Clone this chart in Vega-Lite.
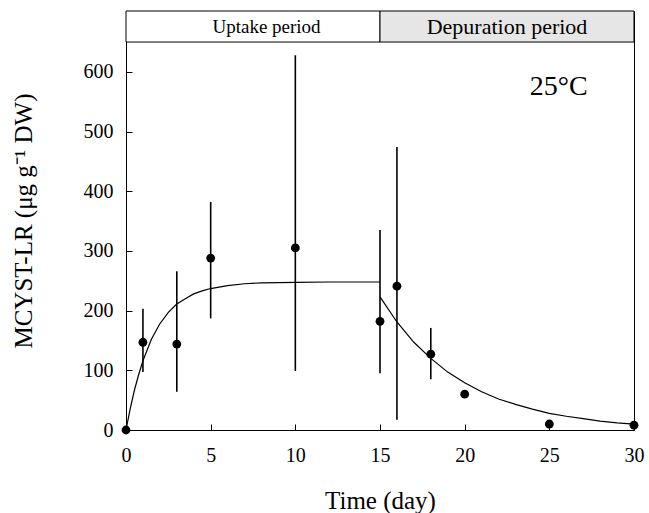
{
  "$schema": "https://vega.github.io/schema/vega-lite/v6.json",
  "autosize": {"type": "none"},
  "width": 508,
  "height": 419,
  "padding": {"left": 126, "top": 11, "right": 15, "bottom": 83},
  "background": "white",
  "config": {
    "view": {"stroke": "black", "strokeWidth": 1},
    "font": "Liberation Serif",
    "style": {
      "guide-label": {"font": "Liberation Serif", "fontWeight": "normal"},
      "guide-title": {"font": "Liberation Serif", "fontWeight": "normal"}
    },
    "axis": {
      "labelFont": "Liberation Serif",
      "titleFont": "Liberation Serif",
      "labelColor": "black",
      "titleColor": "black",
      "domainColor": "black",
      "tickColor": "black",
      "labelFontSize": 20,
      "titleFontSize": 25,
      "titleFontWeight": "normal",
      "labelFontWeight": "normal",
      "grid": false,
      "tickSize": -6,
      "labelFlush": false
    }
  },
  "datasets": {
    "points": [
      {"t": 0, "c": 0, "lo": 0, "hi": 0},
      {"t": 1, "c": 147, "lo": 97, "hi": 203},
      {"t": 3, "c": 144, "lo": 64, "hi": 266},
      {"t": 5, "c": 288, "lo": 187, "hi": 382},
      {"t": 10, "c": 305, "lo": 99, "hi": 628},
      {"t": 15, "c": 182, "lo": 95, "hi": 335},
      {"t": 16, "c": 241, "lo": 17, "hi": 474},
      {"t": 18, "c": 127, "lo": 85, "hi": 171},
      {"t": 20, "c": 60, "lo": 60, "hi": 60},
      {"t": 25, "c": 10, "lo": 10, "hi": 10},
      {"t": 30, "c": 8, "lo": 8, "hi": 8}
    ],
    "curve": [
      {"phase": "uptake", "t": 0, "c": 0},
      {"phase": "uptake", "t": 0.25, "c": 36},
      {"phase": "uptake", "t": 0.5, "c": 67},
      {"phase": "uptake", "t": 0.75, "c": 93},
      {"phase": "uptake", "t": 1, "c": 116},
      {"phase": "uptake", "t": 1.5, "c": 152},
      {"phase": "uptake", "t": 2, "c": 178},
      {"phase": "uptake", "t": 2.5, "c": 197},
      {"phase": "uptake", "t": 3, "c": 211},
      {"phase": "uptake", "t": 3.5, "c": 220},
      {"phase": "uptake", "t": 4, "c": 228},
      {"phase": "uptake", "t": 4.5, "c": 233},
      {"phase": "uptake", "t": 5, "c": 237},
      {"phase": "uptake", "t": 6, "c": 242},
      {"phase": "uptake", "t": 7, "c": 245},
      {"phase": "uptake", "t": 8, "c": 246.5},
      {"phase": "uptake", "t": 10, "c": 247.5},
      {"phase": "uptake", "t": 12, "c": 248},
      {"phase": "uptake", "t": 15, "c": 248},
      {"phase": "depuration", "t": 15, "c": 223},
      {"phase": "depuration", "t": 16, "c": 181},
      {"phase": "depuration", "t": 17, "c": 147},
      {"phase": "depuration", "t": 18, "c": 120},
      {"phase": "depuration", "t": 19, "c": 97},
      {"phase": "depuration", "t": 20, "c": 79},
      {"phase": "depuration", "t": 21, "c": 64},
      {"phase": "depuration", "t": 22, "c": 52},
      {"phase": "depuration", "t": 23, "c": 43},
      {"phase": "depuration", "t": 24, "c": 35},
      {"phase": "depuration", "t": 25, "c": 28},
      {"phase": "depuration", "t": 26, "c": 23},
      {"phase": "depuration", "t": 27, "c": 19},
      {"phase": "depuration", "t": 28, "c": 15},
      {"phase": "depuration", "t": 29, "c": 12},
      {"phase": "depuration", "t": 30, "c": 10}
    ],
    "band": [
      {"period": "Uptake period", "x0": 0, "x1": 15, "xc": 8.3},
      {"period": "Depuration period", "x0": 15, "x1": 30, "xc": 22.5}
    ]
  },
  "layer": [
    {
      "data": {"name": "band"},
      "mark": {"type": "rect", "stroke": "black", "strokeWidth": 1},
      "encoding": {
        "x": {"field": "x0", "type": "quantitative", "scale": {"domain": [0, 30], "nice": false}, "axis": {"values": [0, 5, 10, 15, 20, 25, 30], "title": "Time (day)", "labelFont": "Liberation Serif", "titleFont": "Liberation Serif", "titleFontWeight": "normal", "labelPadding": 21, "titleY": 70, "titleBaseline": "middle"}},
        "x2": {"field": "x1"},
        "y": {"datum": 650, "type": "quantitative", "scale": {"domain": [0, 702], "nice": false}, "axis": {"values": [0, 100, 200, 300, 400, 500, 600], "title": "MCYST-LR (μg g⁻¹ DW)", "labelFont": "Liberation Serif", "titleFont": "Liberation Serif", "titleFontWeight": "normal", "labelPadding": 19, "titleX": -103, "titleBaseline": "middle"}},
        "y2": {"datum": 702},
        "color": {"field": "period", "type": "nominal", "scale": {"domain": ["Uptake period", "Depuration period"], "range": ["#ffffff", "#e6e6e6"]}, "legend": null}
      }
    },
    {
      "data": {"name": "band"},
      "transform": [{"filter": "datum.period == 'Uptake period'"}],
      "mark": {"type": "text", "font": "Liberation Serif", "fontSize": 19, "color": "black", "baseline": "middle"},
      "encoding": {
        "x": {"field": "xc", "type": "quantitative"},
        "y": {"datum": 676, "type": "quantitative"},
        "text": {"field": "period"}
      }
    },
    {
      "data": {"name": "band"},
      "transform": [{"filter": "datum.period == 'Depuration period'"}],
      "mark": {"type": "text", "font": "Liberation Serif", "fontSize": 22, "color": "black", "baseline": "middle"},
      "encoding": {
        "x": {"field": "xc", "type": "quantitative"},
        "y": {"datum": 676, "type": "quantitative"},
        "text": {"field": "period"}
      }
    },
    {
      "data": {"name": "curve"},
      "mark": {"type": "line", "color": "black", "strokeWidth": 1.2},
      "encoding": {
        "x": {"field": "t", "type": "quantitative"},
        "y": {"field": "c", "type": "quantitative"},
        "detail": {"field": "phase"}
      }
    },
    {
      "data": {"name": "points"},
      "mark": {"type": "rule", "color": "black", "strokeWidth": 1.6},
      "encoding": {
        "x": {"field": "t", "type": "quantitative"},
        "y": {"field": "lo", "type": "quantitative"},
        "y2": {"field": "hi"}
      }
    },
    {
      "data": {"name": "points"},
      "mark": {"type": "point", "filled": true, "color": "black", "opacity": 1, "size": 78},
      "encoding": {
        "x": {"field": "t", "type": "quantitative"},
        "y": {"field": "c", "type": "quantitative"}
      }
    },
    {
      "data": {"values": [{"label": "25°C"}]},
      "mark": {"type": "text", "font": "Liberation Serif", "fontSize": 28, "color": "black", "baseline": "middle", "align": "left"},
      "encoding": {
        "x": {"datum": 23.85, "type": "quantitative"},
        "y": {"datum": 575, "type": "quantitative"},
        "text": {"field": "label"}
      }
    }
  ]
}
